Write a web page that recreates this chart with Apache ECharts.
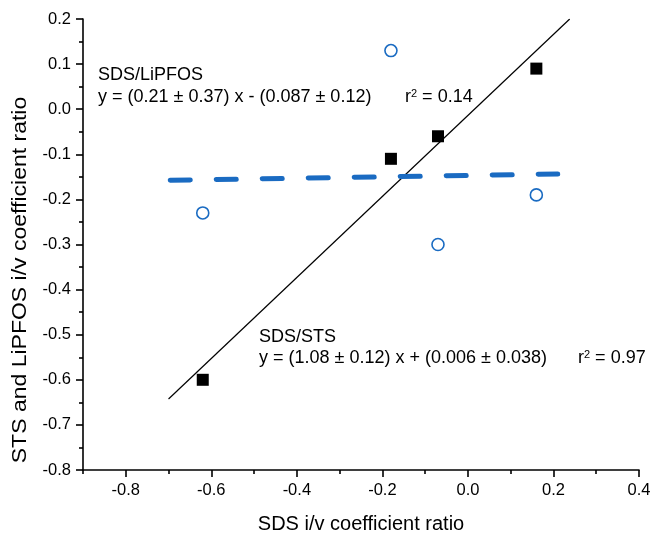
<!DOCTYPE html>
<html>
<head>
<meta charset="utf-8">
<script src="https://cdn.jsdelivr.net/npm/echarts@6/dist/echarts.min.js"></script>
<style>
  html, body { margin: 0; padding: 0; background: #fff; }
  #chart { width: 651px; height: 533px; }
</style>
</head>
<body>
<div id="chart"></div>
<script>
// points
const sdsX = [-0.62, -0.18, -0.07, 0.16];
const stsY = [-0.60, -0.11, -0.06, 0.09];
const lipfosY = [-0.23, 0.13, -0.30, -0.19];

// fitted lines, end points as drawn
const stsFitX = [-0.70, 0.238];
const stsFitY = [-0.6425, 0.20];
const lipfosFitX = [-0.696, 0.21];
const lipfosFitY = [-0.1575, -0.1437];

// tick labels
const xTicks = [-0.8, -0.6, -0.4, -0.2, 0.0, 0.2, 0.4];
const xMinorTicks = [-0.9, -0.7, -0.5, -0.3, -0.1, 0.1, 0.3];

const FONT = "'Liberation Sans', Arial, sans-serif";
const BLUE = "#1a6bc2";

const pairs = (xs, ys) => xs.map((x, i) => [x, ys[i]]);

const chart = echarts.init(document.getElementById("chart"));

const baseX = {
  type: "value",
  min: -0.9,
  max: 0.4,
  position: "bottom",
  splitLine: { show: false },
};

const option = {
  animation: false,
  backgroundColor: "#fff",
  grid: { left: 83, right: 12, top: 19, bottom: 63, outerBoundsMode: "none" },
  xAxis: [
    {
      ...baseX,
      name: "SDS i/v coefficient ratio",
      nameLocation: "middle",
      nameGap: 44,
      nameTextStyle: { fontSize: 20, color: "#000", fontFamily: FONT },
      axisLine: { onZero: false, lineStyle: { color: "#000", width: 1.6 } },
      axisTick: { customValues: xTicks, length: 7, lineStyle: { color: "#000", width: 1.6 } },
      axisLabel: {
        customValues: xTicks,
        margin: 12,
        fontSize: 16.5,
        color: "#000",
        fontFamily: FONT,
        formatter: (v) => v.toFixed(1),
      },
    },
    {
      // minor ticks only
      ...baseX,
      axisLine: { show: false, onZero: false },
      axisTick: { customValues: xMinorTicks, length: 4, lineStyle: { color: "#000", width: 1.6 } },
      axisLabel: { show: false },
    },
  ],
  yAxis: {
    type: "value",
    min: -0.8,
    max: 0.2,
    interval: 0.1,
    splitLine: { show: false },
    axisLine: { show: true, onZero: false, lineStyle: { color: "#000", width: 1.6 } },
    axisTick: { show: true, length: 7, lineStyle: { color: "#000", width: 1.6 } },
    minorTick: { show: true, splitNumber: 2, length: 4, lineStyle: { color: "#000", width: 1.6 } },
    axisLabel: {
      margin: 12,
      fontSize: 16.5,
      color: "#000",
      fontFamily: FONT,
      formatter: (v) => v.toFixed(1),
    },
  },
  series: [
    {
      type: "line",
      data: pairs(stsFitX, stsFitY),
      symbol: "none",
      lineStyle: { color: "#000", width: 1.2 },
      z: 2,
    },
    {
      type: "line",
      data: pairs(lipfosFitX, lipfosFitY),
      symbol: "none",
      lineStyle: { color: BLUE, width: 5, type: [20, 26], cap: "round" },
      z: 3,
    },
    {
      type: "scatter",
      data: pairs(sdsX, stsY),
      symbol: "rect",
      symbolSize: 12,
      itemStyle: { color: "#000", opacity: 1 },
      z: 4,
    },
    {
      type: "scatter",
      data: pairs(sdsX, lipfosY),
      symbol: "circle",
      symbolSize: 12,
      itemStyle: { color: "#fff", borderColor: BLUE, borderWidth: 1.6, opacity: 1 },
      z: 4,
    },
  ],
  graphic: [
    {
      type: "text",
      x: 20,
      y: 280,
      rotation: Math.PI / 2,
      scaleX: 1.15,
      style: { text: "STS and LiPFOS i/v coefficient ratio", font: "20px " + FONT, fill: "#000", align: "center", verticalAlign: "middle" },
    },
    { type: "text", x: 98, y: 75, style: { text: "SDS/LiPFOS", font: "18px " + FONT, fill: "#000", verticalAlign: "middle" } },
    { type: "text", x: 98, y: 97.5, style: { text: "y = (0.21 ± 0.37) x - (0.087 ± 0.12)", font: "18px " + FONT, fill: "#000", verticalAlign: "middle" } },
    {
      type: "text", x: 405, y: 97.5,
      style: {
        text: "{r|r}{s|2}{r| = 0.14}", verticalAlign: "middle", fill: "#000",
        rich: {
          r: { fontSize: 18, fontFamily: FONT, lineHeight: 18 },
          s: { fontSize: 11, fontFamily: FONT, lineHeight: 18, verticalAlign: "top" },
        },
      },
    },
    { type: "text", x: 259, y: 337, style: { text: "SDS/STS", font: "18px " + FONT, fill: "#000", verticalAlign: "middle" } },
    { type: "text", x: 259, y: 358, style: { text: "y = (1.08 ± 0.12) x + (0.006 ± 0.038)", font: "18px " + FONT, fill: "#000", verticalAlign: "middle" } },
    {
      type: "text", x: 578, y: 358,
      style: {
        text: "{r|r}{s|2}{r| = 0.97}", verticalAlign: "middle", fill: "#000",
        rich: {
          r: { fontSize: 18, fontFamily: FONT, lineHeight: 18 },
          s: { fontSize: 11, fontFamily: FONT, lineHeight: 18, verticalAlign: "top" },
        },
      },
    },
  ],
};

chart.setOption(option);
</script>
</body>
</html>
